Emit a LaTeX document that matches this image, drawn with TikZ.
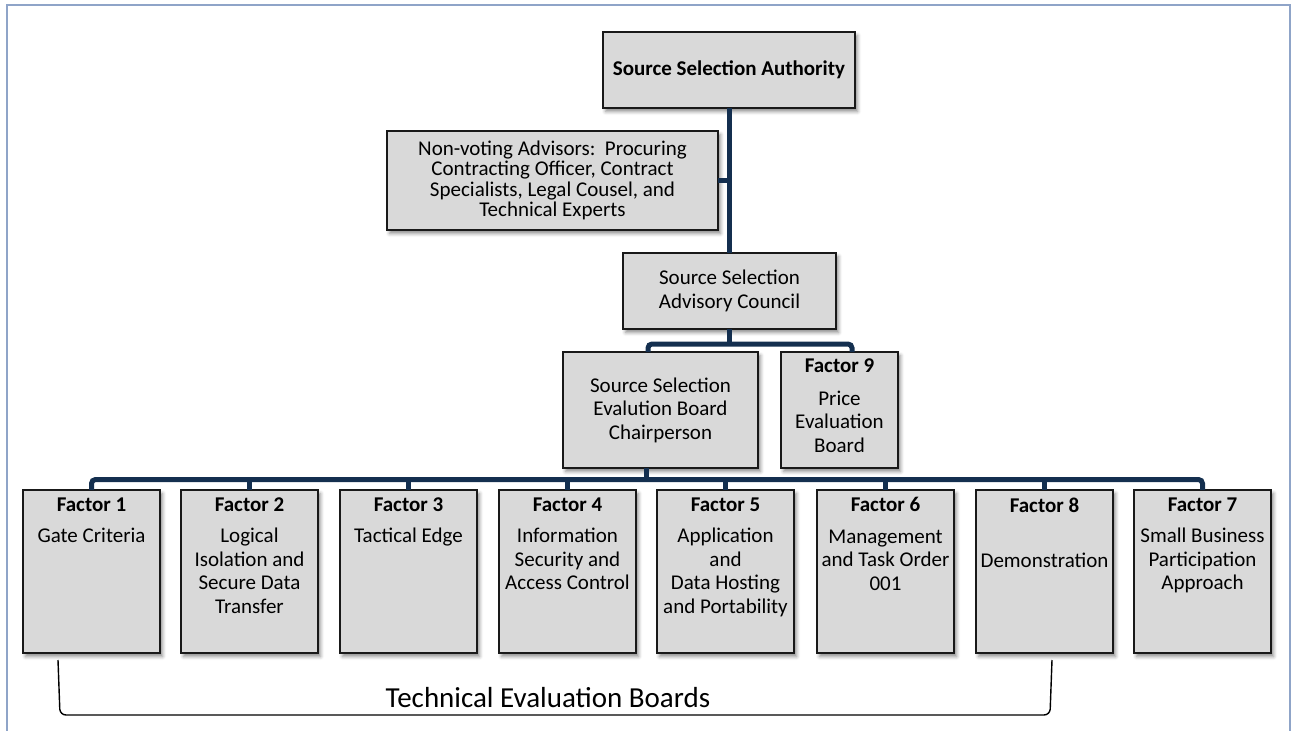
\documentclass[tikz,border=0pt]{standalone}
\usepackage{fontspec}
\setmainfont{Carlito}
\usetikzlibrary{shadows.blur,calc}
\definecolor{boxgray}{RGB}{217,217,217}
\definecolor{navy}{RGB}{20,47,79}
\definecolor{framecol}{RGB}{143,164,200}
% one evaluation-board box: name, left edge, title, body
\newcommand\boardbox[4]{%
  \node[box, minimum width=137pt, minimum height=163pt] (#1) at (#2,490) {};
  \node[txt, anchor=north] (#1t) at ($(#1.north)+(0,7.3)$) {\textbf{#3}\\[7.8pt]#4};
}
\begin{document}
\begin{tikzpicture}[x=1pt,y=-1pt,
  box/.style={draw=black!90, line width=2.7pt, fill=boxgray, inner sep=0pt, outer sep=0pt,
    anchor=north west, align=center, font=\fontsize{21}{23.4}\selectfont,
    blur shadow={shadow xshift=2.5pt, shadow yshift=-3.5pt, shadow blur radius=3.5pt, shadow opacity=45}},
  txt/.style={font=\fontsize{21}{23.6}\selectfont, align=center, inner sep=0pt},
  conn/.style={draw=navy, line width=5pt},
  brace/.style={draw=black, line width=1.4pt, rounded corners=6pt}]
\useasboundingbox (0,0) rectangle (1291,731);

% page frame
\draw[framecol, line width=2pt] (6.5,731) -- (6.5,4.5) -- (1289.5,4.5) -- (1289.5,731);

% upper hierarchy
\node[box, minimum width=252pt, minimum height=76pt] (ssa) at (603,32)
  {\textbf{Source Selection Authority}};
\node[box, minimum width=331pt, minimum height=99pt, font=\fontsize{21}{20.4}\selectfont] (adv) at (387,131)
  {Non-voting Advisors:\ \ Procuring\\Contracting Officer, Contract\\Specialists, Legal Cousel, and\\Technical Experts};
\node[box, minimum width=213pt, minimum height=76pt] (ssac) at (623,253)
  {Source Selection\\Advisory Council};
\node[box, minimum width=195pt, minimum height=116pt] (sseb) at (563,352)
  {Source Selection\\Evalution Board\\Chairperson};
\node[box, minimum width=117pt, minimum height=116pt] (f9) at (781,352) {};
\node[txt, anchor=north] (f9t) at ($(f9.north)+(0,6.5)$)
  {\textbf{Factor 9}\\[9pt]Price\\Evaluation\\Board};

% evaluation boards
\boardbox{f1}{23}{Factor 1}{Gate Criteria}
\boardbox{f2}{181}{Factor 2}{Logical\\Isolation and\\Secure Data\\Transfer}
\boardbox{f3}{340}{Factor 3}{Tactical Edge}
\boardbox{f4}{499}{Factor 4}{Information\\Security and\\Access Control}
\boardbox{f5}{657}{Factor 5}{Application\\and\\Data Hosting\\and Portability}
\boardbox{f6}{817}{Factor 6}{Management\\and Task Order\\001}
\boardbox{f8}{976}{Factor 8}{~\\Demonstration}
\boardbox{f7}{1134}{Factor 7}{Small Business\\Participation\\Approach}

% connectors
\draw[conn] (ssa.south) -- (ssa.south |- ssac.north);
\draw[conn] (adv.east) -- (adv.east -| ssa.south);
\coordinate (bl) at (648,344);
\coordinate (br) at (852,344);
\draw[conn] (ssac.south) -- (ssac.south |- bl);
\draw[conn, rounded corners=4pt] (bl |- sseb.north) -- (bl) -- (br) -- (br |- f9.north);
\coordinate (bus) at (0,479.5);
\coordinate (sd) at (646,0);
\draw[conn] (sd |- sseb.south) -- (sd |- bus);
\draw[conn, rounded corners=4pt] (f1.north) -- (f1.north |- bus) -- (f7.north |- bus) -- (f7.north);
\foreach \n in {2,3,4,5,6,8} \draw[conn] (f\n.north) -- (f\n.north |- bus);

% bracket grouping the technical boards
\coordinate (bra) at (58,660);
\coordinate (brb) at (1052,660);
\draw[brace] (bra) -- (60,715) -- (1050,715) -- (brb);
\node[font=\fontsize{29}{34}\selectfont, inner sep=0pt, anchor=base] (teb) at (548,707)
  {Technical Evaluation Boards};
\end{tikzpicture}
\end{document}
